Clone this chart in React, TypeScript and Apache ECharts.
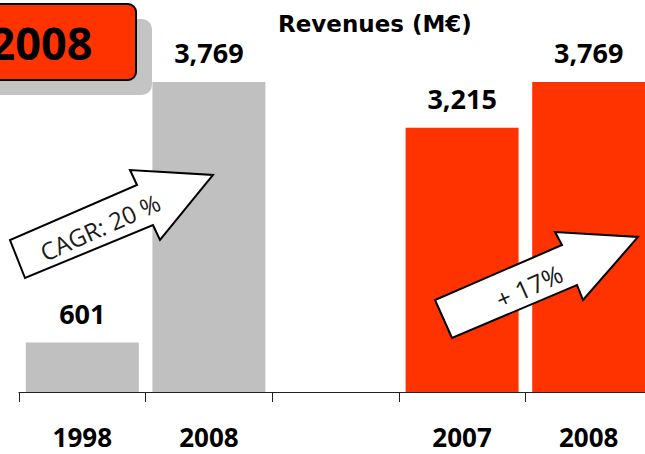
import React, { useEffect, useRef } from "react";
import * as echarts from "echarts";

const categories = ["1998", "2008", "", "2007", "2008"];
const revenues = [601, 3769, null, 3215, 3769];
const barColors = ["#c0c0c0", "#c0c0c0", "#c0c0c0", "#ff3300", "#ff3300"];
const titleText = "Revenues (M€)";
const badgeText = "2008";
const cagrText = "CAGR: 20 %";
const growthText = "+ 17%";

const FONT = "'Open Sans', 'Noto Sans', sans-serif";

export default function App() {
  const ref = useRef<HTMLDivElement>(null);
  useEffect(() => {
    if (!ref.current) return;
    const chart = echarts.init(ref.current, undefined, { renderer: "svg" });
    const cagrArrow = [
      [25, 278], [10, 240], [137, 185], [130, 170], [213, 175], [160, 240], [153, 225],
    ];
    const growthArrow = [
      [452, 338], [435, 300], [562, 245], [555, 232], [638, 237], [583, 300], [577, 285],
    ];
    chart.setOption({
      animation: false,
      backgroundColor: "#ffffff",
      title: {
        text: titleText,
        left: 273,
        top: 7,
        textStyle: {
          fontFamily: "'DejaVu Sans', sans-serif",
          fontWeight: "bold",
          fontSize: 23,
          color: "#000",
        },
      },
      grid: { left: 19, right: 0, top: 22, height: 370 },
      xAxis: {
        type: "category",
        data: categories,
        axisLine: { show: true, lineStyle: { color: "#222", width: 1 } },
        axisTick: { show: true, length: 10, lineStyle: { color: "#222", width: 1 } },
        axisLabel: {
          margin: 34,
          fontFamily: FONT,
          fontWeight: "bold",
          fontSize: 26,
          lineHeight: 22,
          color: "#000",
        },
      },
      yAxis: { type: "value", min: 0, max: 4500, show: false, splitLine: { show: false } },
      series: [
        {
          type: "bar",
          barWidth: 113,
          data: revenues.map((v, i) => ({ value: v, itemStyle: { color: barColors[i] } })),
          label: {
            show: true,
            position: "top",
            distance: 16,
            fontFamily: FONT,
            fontWeight: "bold",
            fontSize: 27,
            color: "#000",
            formatter: (p: any) => (p.value == null ? "" : Number(p.value).toLocaleString("en-US")),
          },
        },
      ],
      graphic: [
        {
          type: "rect",
          z: 100,
          shape: { x: -12, y: 19, width: 164, height: 76, r: 10 },
          style: { fill: "#c4c4c4" },
        },
        {
          type: "rect",
          z: 101,
          shape: { x: -20, y: 4, width: 156, height: 76, r: 8 },
          style: { fill: "#ff3300", stroke: "#000", lineWidth: 2 },
        },
        {
          type: "text",
          z: 102,
          x: 41,
          y: 42,
          style: {
            text: badgeText,
            fontFamily: FONT,
            fontWeight: "bold",
            fontSize: 45,
            fill: "#000",
            align: "center",
            verticalAlign: "middle",
          },
        },
        {
          type: "polygon",
          z: 100,
          shape: { points: cagrArrow },
          style: { fill: "#fff", stroke: "#000", lineWidth: 2 },
        },
        {
          type: "text",
          z: 101,
          x: 100,
          y: 227,
          rotation: 0.42,
          style: {
            text: cagrText,
            fontFamily: FONT,
            fontSize: 24,
            fill: "#1a1a1a",
            align: "center",
            verticalAlign: "middle",
          },
        },
        {
          type: "polygon",
          z: 100,
          shape: { points: growthArrow },
          style: { fill: "#fff", stroke: "#000", lineWidth: 2 },
        },
        {
          type: "text",
          z: 101,
          x: 529,
          y: 286,
          rotation: 0.42,
          style: {
            text: growthText,
            fontFamily: FONT,
            fontSize: 25,
            fill: "#1a1a1a",
            align: "center",
            verticalAlign: "middle",
          },
        },
      ],
    });
    return () => chart.dispose();
  }, []);
  return (
    <div
      ref={ref}
      style={{ position: "fixed", left: 0, top: 0, width: 652, height: 454 }}
    />
  );
}
